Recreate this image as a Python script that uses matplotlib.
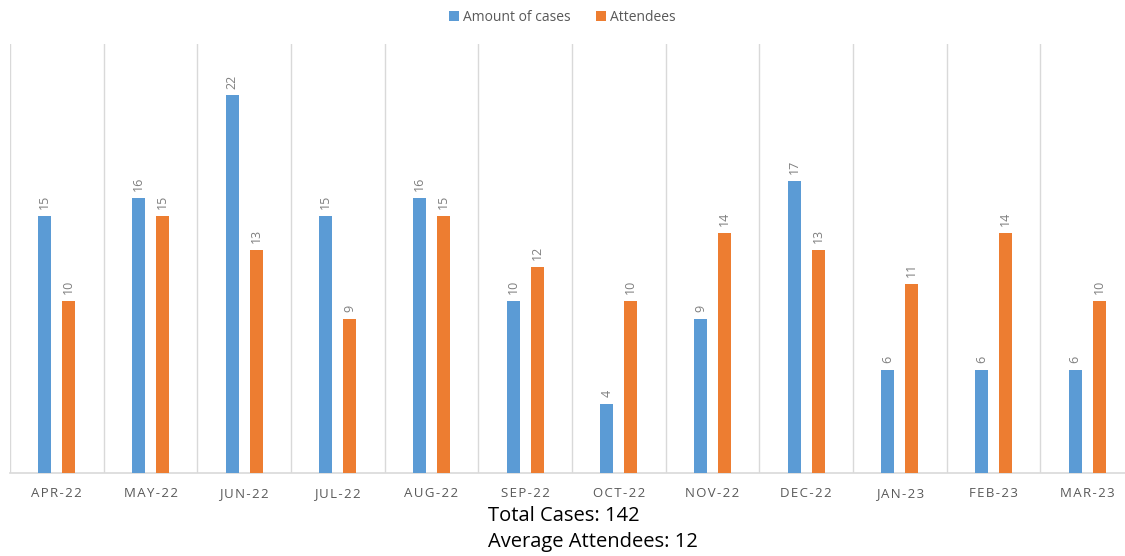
import matplotlib.pyplot as plt
import numpy as np

# data
months = ['APR-22', 'MAY-22', 'JUN-22', 'JUL-22', 'AUG-22', 'SEP-22',
          'OCT-22', 'NOV-22', 'DEC-22', 'JAN-23', 'FEB-23', 'MAR-23']
cases = [15, 16, 22, 15, 16, 10, 4, 9, 17, 6, 6, 6]
attendees = [10, 15, 13, 9, 15, 12, 10, 14, 13, 11, 14, 10]
summary = ['Total Cases: 142', 'Average Attendees: 12']

plt.rcParams['font.family'] = ['Open Sans', 'DejaVu Sans']

blue = '#5b9bd5'
orange = '#ed7d31'
grey = '#595959'

fig = plt.figure(figsize=(11.25, 5.56), dpi=100)
ax = fig.add_axes([10 / 1125, (556 - 473) / 556, 1124 / 1125, 429 / 556])

x = np.arange(len(months))
w = 0.14
off = 0.128
b1 = ax.bar(x - off, cases, w, color=blue, label='Amount of cases', zorder=3)
b2 = ax.bar(x + off, attendees, w, color=orange, label='Attendees', zorder=3)

for bars in (b1, b2):
    for r in bars:
        ax.annotate(str(int(r.get_height())),
                    (r.get_x() + r.get_width() / 2, r.get_height()),
                    xytext=(0, 5), textcoords='offset points',
                    rotation=90, ha='center', va='bottom',
                    fontsize=9, color='#7f7f7f')

# spaced-out month labels like the original
spaced = ['\u200a'.join(m) for m in months]

ax.set_xlim(-0.5, len(months) - 0.5)
ax.set_ylim(0, 25)
ax.set_xticks(x)
ax.set_xticklabels(spaced, fontsize=9.5, color=grey)
ax.set_xticks(np.arange(len(months) + 1) - 0.5, minor=True)
ax.tick_params(axis='x', which='both', length=0, pad=10)
ax.set_yticks([])
ax.grid(axis='x', which='minor', color='#d9d9d9', lw=1, zorder=0)
for s in ['top', 'right', 'left']:
    ax.spines[s].set_visible(False)
ax.spines['bottom'].set_color('#d9d9d9')
ax.spines['bottom'].set_linewidth(1.2)

fig.legend(loc='upper center', bbox_to_anchor=(0.5, 1.005), ncol=2,
           frameon=False, fontsize=10, handlelength=0.7, handleheight=0.7,
           handletextpad=0.3, columnspacing=1.8, labelcolor=grey)

fig.text(488 / 1125, 1 - 516 / 556, summary[0], fontsize=14.5, va='center', ha='left')
fig.text(488 / 1125, 1 - 542 / 556, summary[1], fontsize=14.5, va='center', ha='left')

fig.savefig('out.png', dpi=100)
